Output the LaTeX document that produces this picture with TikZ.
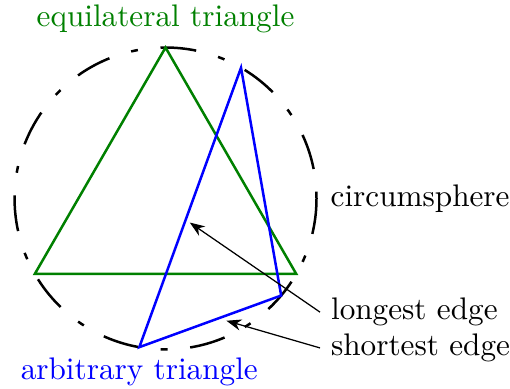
\documentclass[tikz,border=0pt]{standalone}
\usepackage{tikz}
\usetikzlibrary{arrows.meta,positioning,calc}

\begin{document}
\begin{tikzpicture}[
    eqtri/.style={draw=green!50!black, thick},
    arbtri/.style={draw=blue, thick},
    sphere/.style={draw=black, thick, dash pattern=on 2.2pt off 7.3pt on 11.5pt off 7.3pt},
    arrow/.style={-{Stealth}, draw=black}
]
    \useasboundingbox (-1.864,-2.145) rectangle (3.879,2.235);
    \coordinate (O) at (0,0);
    \draw [sphere] (O) circle (1.7);

    \coordinate (e1) at (90:1.7);
    \coordinate (e2) at (210:1.7);
    \coordinate (e3) at (330:1.7);
    \draw [eqtri] (e1) -- (e2) -- (e3) -- cycle;

    \coordinate (a1) at (60:1.7);
    \coordinate (a2) at (-40:1.7);
    \coordinate (a3) at (-100:1.7);
    \draw [arbtri] (a1) -- (a2) -- (a3) -- cycle;

    \coordinate (s) at (0:1.7);
    \node [above=1pt of e1, text=green!50!black] (leq) {equilateral triangle};
    \node [below=0pt of a3, text=blue] (larb) {arbitrary triangle};
    \node [right=1pt of s] (lsph) {circumsphere};

    \coordinate (tl) at ($(a3)!0.456!(a1)$);
    \coordinate (ts) at ($(a3)!0.557!(a2)$);
    \node [right] (llong) at (1.74,-1.28) {longest edge};
    \node [right] (lshort) at (1.74,-1.683) {shortest edge};

    \draw [arrow, shorten >=1.6pt] (llong.west) -- (tl);
    \draw [arrow, shorten >=2.7pt] (lshort.west) -- (ts);
\end{tikzpicture}
\end{document}
